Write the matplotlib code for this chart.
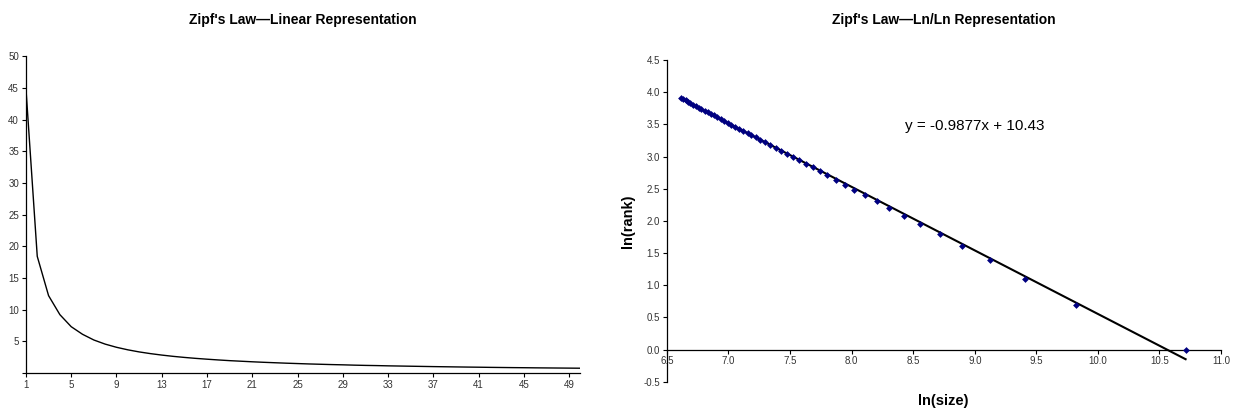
import numpy as np
import matplotlib
matplotlib.use('Agg')
import matplotlib.pyplot as plt

plt.rcParams['font.family'] = ['Liberation Sans', 'DejaVu Sans']

# city sizes (thousands) by rank
ranks = list(range(1, 51))
sizes = [44.9, 18.4, 12.2, 9.2, 7.3, 6.1, 5.2, 4.55, 4.05, 3.65,
         3.32, 3.05, 2.82, 2.62, 2.45, 2.30, 2.17, 2.05, 1.94, 1.85,
         1.76, 1.68, 1.61, 1.54, 1.48, 1.42, 1.37, 1.32, 1.28, 1.23,
         1.19, 1.16, 1.12, 1.09, 1.06, 1.03, 1.00, 0.975, 0.95, 0.925,
         0.905, 0.88, 0.86, 0.84, 0.825, 0.805, 0.79, 0.775, 0.76, 0.745]

# trendline shown on the log chart
slope = -0.9877
intercept = 10.43

left_xticks = list(range(1, 51, 4))
left_yticks = list(range(0, 51, 5))
right_xticks = [6.5, 7.0, 7.5, 8.0, 8.5, 9.0, 9.5, 10.0, 10.5, 11.0]
right_yticks = [-0.5, 0.0, 0.5, 1.0, 1.5, 2.0, 2.5, 3.0, 3.5, 4.0, 4.5]

ln_size = np.log(np.array(sizes) * 1000)
ln_rank = np.log(np.array(ranks))

fig = plt.figure(figsize=(12.35, 4.13), dpi=100)

tick_color = '#333333'

# ---- linear chart ----
ax1 = fig.add_axes([0.021, 0.097, 0.449, 0.767])
ax1.plot(ranks, sizes, color='black', linewidth=1.0)
ax1.set_xlim(1, 50)
ax1.set_ylim(0, 50)
ax1.set_xticks(left_xticks)
ax1.set_yticks(left_yticks)
ax1.set_yticklabels(['' if v == 0 else str(v) for v in left_yticks])
for s in ['top', 'right']:
    ax1.spines[s].set_visible(False)
for s in ['left', 'bottom']:
    ax1.spines[s].set_linewidth(0.9)
ax1.tick_params(direction='out', length=3, width=0.8, labelsize=7,
                labelcolor=tick_color, pad=2)
fig.text(0.2455, 0.952, "Zipf's Law\u2014Linear Representation",
         ha='center', va='center', fontsize=10, fontweight='bold')

# ---- ln/ln chart ----
ax2 = fig.add_axes([0.540, 0.0758, 0.4487, 0.7789])
ax2.scatter(ln_size, ln_rank, marker='D', s=12, color='#000080', zorder=3,
            linewidths=0)
xfit = np.array([ln_size.min(), ln_size.max()])
ax2.plot(xfit, slope * xfit + intercept, color='black', linewidth=1.5, zorder=2)
ax2.set_xlim(6.5, 11.0)
ax2.set_ylim(-0.5, 4.5)
ax2.set_xticks(right_xticks)
ax2.set_yticks(right_yticks)
ax2.set_xticklabels([f'{v:.1f}' for v in right_xticks])
ax2.set_yticklabels([f'{v:.1f}' for v in right_yticks])
ax2.spines['bottom'].set_position(('data', 0))
for s in ['top', 'right']:
    ax2.spines[s].set_visible(False)
for s in ['left', 'bottom']:
    ax2.spines[s].set_linewidth(0.9)
ax2.tick_params(direction='out', length=3, width=0.8, labelsize=7,
                labelcolor=tick_color, pad=2)
ax2.text(8.43, 3.47, f'y = {slope}x + {intercept}', fontsize=11,
         ha='left', va='center')
ax2.set_ylabel('ln(rank)', fontsize=10.5, fontweight='bold', labelpad=6)
fig.text(0.764, 0.03, 'ln(size)', ha='center', va='center',
         fontsize=10.5, fontweight='bold')
fig.text(0.764, 0.952, "Zipf's Law\u2014Ln/Ln Representation",
         ha='center', va='center', fontsize=10, fontweight='bold')

fig.savefig('out.png', dpi=100)
